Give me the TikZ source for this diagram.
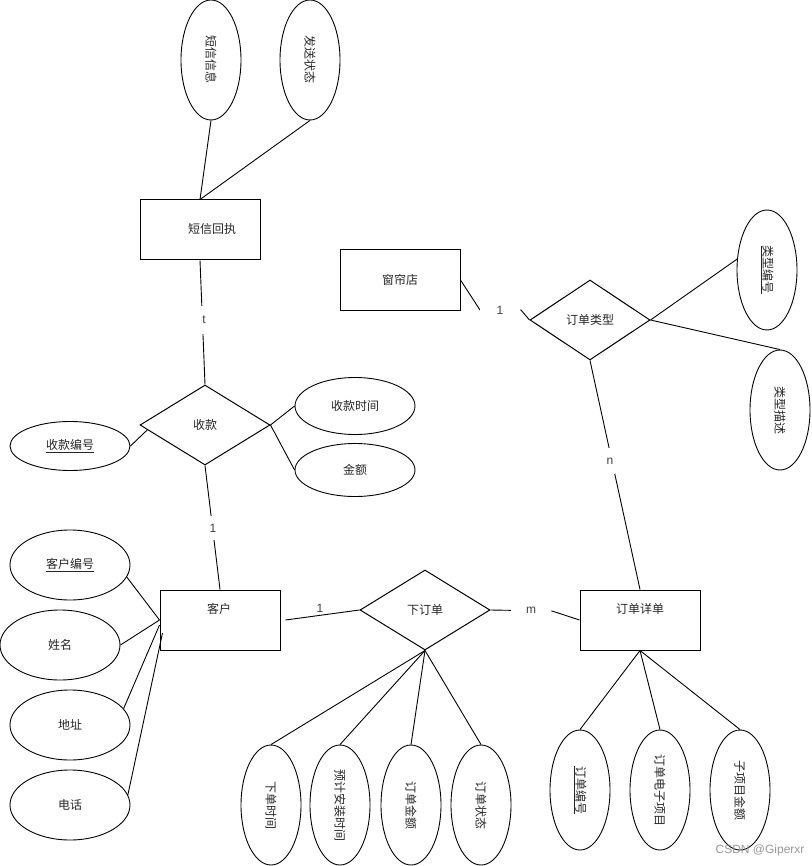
\documentclass[tikz,border=0pt]{standalone}
\usepackage{fontspec}
\setmainfont{Noto Sans CJK SC}
\newfontfamily\latinf{Liberation Sans}
\usetikzlibrary{shapes.geometric,calc}
\begin{document}
\begin{tikzpicture}[x=1pt,y=-1pt,
 every node/.style={font=\fontsize{12}{14}\selectfont, text=black!85},
 ent/.style={draw, line width=1pt, minimum width=120pt, minimum height=60pt, inner sep=0pt},
 rel/.style={draw, diamond, line width=1pt, inner sep=0pt},
 attr/.style={draw, ellipse, line width=0.9pt, inner sep=0pt, minimum width=120pt},
 vattr/.style={draw, ellipse, line width=0.9pt, inner sep=0pt, minimum width=60pt, minimum height=120pt},
 conn/.style={line width=0.9pt},
 card/.style={fill=white, inner sep=0pt, text=black!75, font=\latinf\fontsize{12}{14}\selectfont},
]
\useasboundingbox (0,0) rectangle (811,866);

% entities
\node[ent] (sms) at (200,230) {};
\node (smst) at (212,229) {短信回执};
\node[ent] (shop) at (400,280) {窗帘店};
\node[ent] (cust) at (220,620) {};
\node (custt) at (219,609) {客户};
\node[ent] (detail) at (640,620) {};
\node (detailt) at (640,609) {订单详单};

% relations
\node[rel, minimum width=120pt, minimum height=80pt] (otype) at (590,320) {订单类型};
\node[rel, minimum width=130pt, minimum height=80pt] (pay) at (205,425) {收款};
\node[rel, minimum width=130pt, minimum height=80pt] (xd) at (425,610) {下订单};

% vertical attributes
\node[vattr] (a1) at (211,60) {\rotatebox{-90}{短信信息}};
\node[vattr] (a2) at (310,60) {\rotatebox{-90}{发送状态}};
\node[vattr] (tnum) at (767,270) {\rotatebox{-90}{\underline{类型编号}}};
\node[vattr] (tdesc) at (780,410) {\rotatebox{-90}{类型描述}};
\node[vattr] (o1) at (271,805) {\rotatebox{-90}{下单时间}};
\node[vattr] (o2) at (340,805) {\rotatebox{-90}{预计安装时间}};
\node[vattr] (o3) at (411,805) {\rotatebox{-90}{订单金额}};
\node[vattr] (o4) at (481,805) {\rotatebox{-90}{订单状态}};
\node[vattr] (d1) at (580,790) {\rotatebox{-90}{\underline{订单编号}}};
\node[vattr] (d2) at (660,790) {\rotatebox{-90}{订单电子项目}};
\node[vattr] (d3) at (740,790) {\rotatebox{-90}{子项目金额}};

% horizontal attributes
\node[attr, minimum height=57pt] (ptime) at (355,406) {收款时间};
\node[attr, minimum height=53pt] (pamt) at (355,470) {金额};
\node[attr, minimum height=49pt] (pnum) at (70,446) {\underline{收款编号}};
\node[attr, minimum height=70pt] (cnum) at (70,565) {\underline{客户编号}};
\node[attr, minimum height=70pt] (cname) at (60,645) {姓名};
\node[attr, minimum height=70pt] (caddr) at (70,725) {地址};
\node[attr, minimum height=70pt] (ctel) at (70,805) {电话};

% connectors
\draw[conn] (a1.south) -- (sms.north);
\draw[conn] (a2.south) -- (sms.north);
\draw[conn] (sms.south) -- (pay.north);
\node[card, minimum height=28pt, minimum width=10pt] (lt) at (204,320) {t};

\draw[conn] (pnum.east) -- ($(pay.west)!0.12!(pay.south)$);
\draw[conn] (pay.east) -- (ptime.west);
\draw[conn] (pay.east) -- (pamt.west);
\draw[conn] (pay.south) -- (cust.north);
\node[card, minimum height=24pt, minimum width=10pt] (l1a) at (213,528) {1};

\draw[conn] (cnum.-12) -- (cust.west);
\draw[conn] (cname.east) -- (cust.west);
\draw[conn] (caddr.17) -- ([yshift=-5pt]cust.west);
\draw[conn] (ctel.10) -- ([xshift=3pt,yshift=-13pt]cust.west);

\draw[conn] ([xshift=5pt]cust.east) -- (xd.west);
\node[card, fill=none] (l1b) at (320,608) {1};

\coordinate (mc) at (552,611);
\draw[conn] (xd.east) -- (mc) -- (detail.west);
\node[card, minimum width=40pt, minimum height=14pt] (lm) at (531,610) {m};

\coordinate (c1) at (480,310);
\coordinate (c2) at (521,310);
\draw[conn] (shop.east) -- (c1) -- (c2) -- (otype.west);
\node[card, minimum width=40pt, minimum height=14pt] (l1c) at (500,310) {1};

\draw[conn] (otype.east) -- (tnum.160);
\draw[conn] (otype.east) -- (tdesc.north);
\draw[conn] (otype.south) -- (detail.north);
\node[card, minimum height=26pt, minimum width=10pt] (ln) at (610,461) {n};

\foreach \o in {o1,o2,o3,o4} \draw[conn] (xd.south) -- (\o.north);
\foreach \d in {d1,d2,d3} \draw[conn] (detail.south) -- (\d.north);

\node[anchor=east, text=black!40, font=\latinf\fontsize{12}{14}\selectfont] (wm) at (808,850) {CSDN @Giperxr};
\end{tikzpicture}
\end{document}
